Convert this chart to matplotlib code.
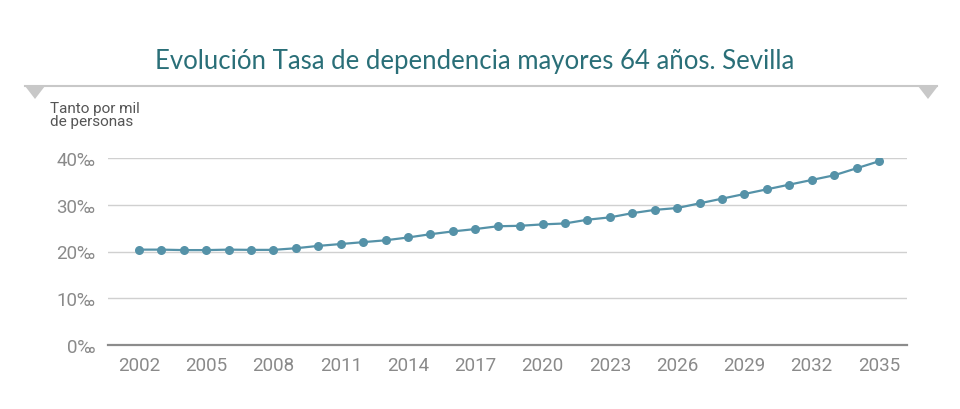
import matplotlib
matplotlib.use("Agg")
import matplotlib.pyplot as plt
from matplotlib.patches import Polygon
from matplotlib.lines import Line2D

# Tasa de dependencia mayores 64 años (tanto por mil), Sevilla
years = list(range(2002, 2036))
rate = [20.4, 20.4, 20.3, 20.3, 20.4, 20.35, 20.35, 20.7, 21.2, 21.6,
        22.0, 22.4, 23.0, 23.7, 24.3, 24.8, 25.4, 25.5, 25.8, 26.0,
        26.8, 27.3, 28.2, 28.9, 29.3, 30.3, 31.3, 32.3, 33.3, 34.3,
        35.3, 36.3, 37.8, 39.3]
xticks = list(range(2002, 2036, 3))
yticks = [0, 10, 20, 30, 40]

TITLE = "Evolución Tasa de dependencia mayores 64 años. Sevilla"
YLABEL = "Tanto por mil\nde personas"

NARROW = ["Liberation Sans Narrow", "Roboto", "DejaVu Sans"]
LINE_COLOR = "#5592a8"

fig = plt.figure(figsize=(9.6, 4.1), dpi=100)
ax = fig.add_axes([108 / 960, 64 / 410, 799 / 960, 187 / 410])

ax.plot(years, rate, color=LINE_COLOR, linewidth=1.6, marker="o",
        markersize=6.5, markeredgewidth=0, zorder=3)

ax.set_xlim(2000.62, 2036.25)
ax.set_ylim(0, 40)
ax.set_yticks(yticks)
ax.set_yticklabels([f"{v}‰" for v in yticks])
ax.set_xticks(xticks)
ax.set_xticklabels([str(v) for v in xticks])

ax.grid(True, axis="y", color="#d0d0d0", linewidth=1)
ax.set_axisbelow(True)
for side in ["top", "right", "left"]:
    ax.spines[side].set_visible(False)
ax.spines["bottom"].set_color("#8c8c8c")
ax.spines["bottom"].set_linewidth(1.6)
ax.spines["bottom"].set_zorder(4)

ax.tick_params(axis="both", length=0, colors="#8a8a8a", labelsize=13.5)
ax.tick_params(axis="x", pad=8)
ax.tick_params(axis="y", pad=9)
for lab in ax.get_xticklabels() + ax.get_yticklabels():
    lab.set_family(NARROW)

# title and decorative rule with triangles
fig.text(475 / 960, 1 - 62 / 410, TITLE, ha="center", va="center",
         fontsize=18.5, color="#2a6f78", family=["Lato", "DejaVu Sans"],
         fontweight="normal")
fig.add_artist(Line2D([25 / 960, 937 / 960], [1 - 87 / 410, 1 - 87 / 410],
                      transform=fig.transFigure, color="#c8c8c8", linewidth=1.5))
for x0 in (25, 918):
    tri = Polygon([[x0 / 960, 1 - 87 / 410], [(x0 + 20) / 960, 1 - 87 / 410],
                   [(x0 + 10) / 960, 1 - 100 / 410]], closed=True,
                  transform=fig.transFigure, facecolor="#c8c8c8",
                  edgecolor="none")
    fig.add_artist(tri)

fig.text(50 / 960, 1 - 102 / 410, YLABEL, ha="left", va="top", fontsize=11,
         color="#555555", family=NARROW, linespacing=0.95)

fig.savefig("out.png", dpi=100)
